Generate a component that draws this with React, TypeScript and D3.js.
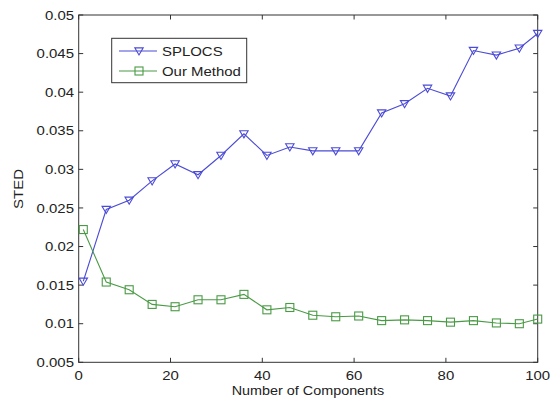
import { useEffect, useRef } from 'react'
import * as d3 from 'd3'

const components = [1, 6, 11, 16, 21, 26, 31, 36, 41, 46, 51, 56, 61, 66, 71, 76, 81, 86, 91, 96, 100]
const splocs = [0.0155, 0.0248, 0.0260, 0.0285, 0.0307, 0.0293, 0.0318, 0.0346, 0.0318, 0.0329, 0.0324, 0.0324, 0.0324, 0.0373, 0.0385, 0.0405, 0.0395, 0.0454, 0.0448, 0.0457, 0.0476]
const ourMethod = [0.0222, 0.0154, 0.0144, 0.0125, 0.0122, 0.0131, 0.0131, 0.0138, 0.0118, 0.0121, 0.0111, 0.0109, 0.0110, 0.0104, 0.0105, 0.0104, 0.0102, 0.0104, 0.0101, 0.0100, 0.0106]
const xTicks = [0, 20, 40, 60, 80, 100]
const yTicks = [0.005, 0.01, 0.015, 0.02, 0.025, 0.03, 0.035, 0.04, 0.045, 0.05]
const seriesNames = ['SPLOCS', 'Our Method']

const BLUE = '#4b4bd6'
const GREEN = '#4a9a45'

export default function App() {
  const canvas = useRef<SVGSVGElement>(null)

  useEffect(() => {
    drawChart()
  }, [])

  const drawChart = () => {
    const width = 556
    const height = 403
    const left = 78.7, right = 537.7, top = 15, bottom = 362.3
    const font = 'Arial, "Liberation Sans", sans-serif'
    const stretch = 1.15

    const svg = d3.select(canvas.current)
    svg.selectAll('*').remove()
    svg.attr('width', width).attr('height', height)
      .style('background', 'white')

    const xScale = d3.scaleLinear().domain([0, 100]).range([left, right])
    const yScale = d3.scaleLinear().domain([0.005, 0.05]).range([bottom, top])

    // helper for the slightly wide matlab text
    const label = (x: number, y: number, txt: string, anchor: string, rot = 0, size = 13) => {
      svg.append('g')
        .attr('transform', `translate(${x},${y}) rotate(${rot}) scale(${stretch},1)`)
        .append('text')
        .attr('text-anchor', anchor)
        .attr('font-family', font)
        .attr('font-size', size)
        .attr('fill', '#222')
        .text(txt)
    }

    // axes box
    svg.append('rect')
      .attr('x', left).attr('y', top)
      .attr('width', right - left).attr('height', bottom - top)
      .attr('fill', 'white').attr('stroke', '#333').attr('stroke-width', 1)

    const tickLen = 4.5
    const ticks = svg.append('g').attr('stroke', '#333').attr('stroke-width', 1)
    xTicks.forEach(t => {
      const x = xScale(t)
      ticks.append('line').attr('x1', x).attr('x2', x).attr('y1', bottom).attr('y2', bottom - tickLen)
      ticks.append('line').attr('x1', x).attr('x2', x).attr('y1', top).attr('y2', top + tickLen)
      label(x, 380, String(t), 'middle')
    })
    yTicks.forEach(t => {
      const y = yScale(t)
      ticks.append('line').attr('x1', left).attr('x2', left + tickLen).attr('y1', y).attr('y2', y)
      ticks.append('line').attr('x1', right).attr('x2', right - tickLen).attr('y1', y).attr('y2', y)
      label(74, y + 4.6, String(+t.toFixed(3)), 'end')
    })

    label(308, 395, 'Number of Components', 'middle', 0, 12.5)
    label(23, 189, 'STED', 'middle', -90, 13)

    const line = d3.line<number>()
      .x((_, i) => xScale(components[i]))
      .y(d => yScale(d))

    const tri = (cx: number, cy: number) => {
      const s = 4.2
      return `M${cx - s},${cy - s * 0.75}L${cx + s},${cy - s * 0.75}L${cx},${cy + s * 0.95}Z`
    }

    const drawSeries = (vals: number[], color: string, marker: string) => {
      svg.append('path')
        .datum(vals)
        .attr('d', line)
        .attr('fill', 'none')
        .attr('stroke', color)
        .attr('stroke-width', 1.1)
      const g = svg.append('g')
      vals.forEach((v, i) => {
        const cx = xScale(components[i]), cy = yScale(v)
        if (marker === 'tri') {
          g.append('path').attr('d', tri(cx, cy))
            .attr('fill', 'none').attr('stroke', color).attr('stroke-width', 1.1)
        } else {
          g.append('rect').attr('x', cx - 4).attr('y', cy - 4).attr('width', 8).attr('height', 8)
            .attr('fill', 'none').attr('stroke', color).attr('stroke-width', 1.1)
        }
      })
    }

    drawSeries(splocs, BLUE, 'tri')
    drawSeries(ourMethod, GREEN, 'sq')

    // legend
    const lg = svg.append('g')
    lg.append('rect')
      .attr('x', 111.7).attr('y', 38.3).attr('width', 135).attr('height', 44.4)
      .attr('fill', 'white').attr('stroke', '#333').attr('stroke-width', 1)
    const rows = [{ c: BLUE, m: 'tri', y: 51 }, { c: GREEN, m: 'sq', y: 71 }]
    rows.forEach((r, i) => {
      lg.append('line').attr('x1', 119).attr('x2', 157).attr('y1', r.y).attr('y2', r.y)
        .attr('stroke', r.c).attr('stroke-width', 1.1)
      if (r.m === 'tri') {
        lg.append('path').attr('d', tri(139, r.y)).attr('fill', 'none').attr('stroke', r.c).attr('stroke-width', 1.1)
      } else {
        lg.append('rect').attr('x', 135).attr('y', r.y - 4).attr('width', 8).attr('height', 8)
          .attr('fill', 'none').attr('stroke', r.c).attr('stroke-width', 1.1)
      }
      label(162, r.y + 4.6, seriesNames[i], 'start')
    })
  }

  return (
    <div style={{ position: 'absolute', left: 0, top: 0 }}>
      <svg ref={canvas} style={{ display: 'block' }}></svg>
    </div>
  )
}
